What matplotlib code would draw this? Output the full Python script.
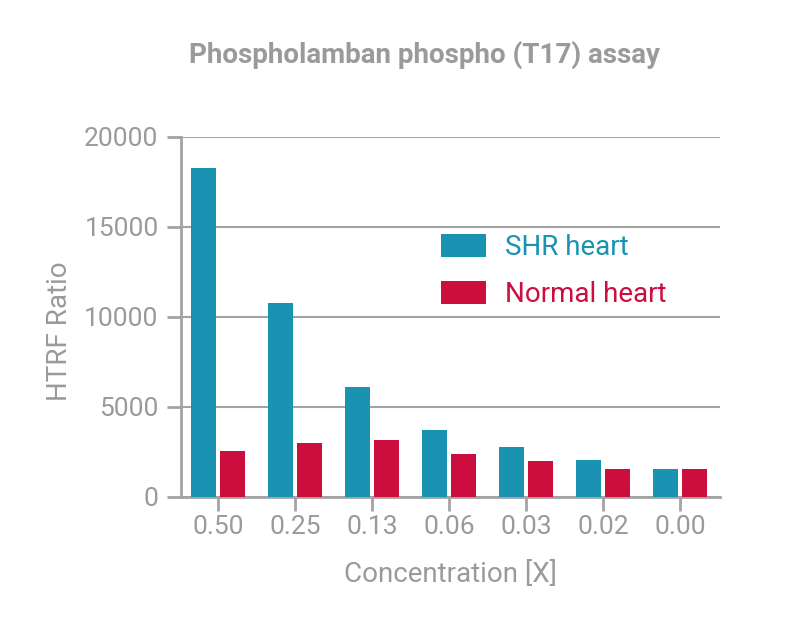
import numpy as np
import matplotlib.pyplot as plt
from matplotlib import font_manager

concentrations = ['0.50', '0.25', '0.13', '0.06', '0.03', '0.02', '0.00']
shr_heart = [18250, 10780, 6130, 3720, 2800, 2060, 1570]
normal_heart = [2570, 3000, 3150, 2390, 2020, 1570, 1540]

BLUE = '#1a93b2'
RED = '#cc0e3f'
GRAY = '#9a9a9a'
AXIS = '#a3a3a3'

names = {f.name for f in font_manager.fontManager.ttflist}
family = 'Liberation Sans Narrow' if 'Liberation Sans Narrow' in names else 'Roboto'
plt.rcParams['font.family'] = [family, 'DejaVu Sans']

fig = plt.figure(figsize=(8, 6.22), dpi=100)
ax = fig.add_axes([0.226, 0.201, 0.674, 0.579])

x = np.arange(len(concentrations))
w = 0.325
ax.bar(x - 0.19, shr_heart, w, color=BLUE, label='SHR heart', zorder=3)
ax.bar(x + 0.19, normal_heart, w, color=RED, label='Normal heart', zorder=3)

ax.set_xlim(-0.48, 6.52)
ax.set_ylim(0, 20000)
ax.set_yticks(range(0, 20001, 5000))
ax.set_xticks(x)
ax.set_xticklabels(concentrations)
ax.yaxis.grid(True, color=AXIS, linewidth=1.5, zorder=0)

for s in ['top', 'right']:
    ax.spines[s].set_visible(False)
for s in ['left', 'bottom']:
    ax.spines[s].set_color(AXIS)
    ax.spines[s].set_linewidth(2)
ax.tick_params(axis='both', colors=AXIS, width=2, length=10, labelcolor=GRAY,
               labelsize=19)
ax.tick_params(axis='x', pad=3)
ax.tick_params(axis='y', pad=6)

ax.set_ylabel('HTRF Ratio', color=GRAY, fontsize=20)
ax.yaxis.set_label_coords(-0.20, 0.46)
ax.set_xlabel('Concentration [X]', color=GRAY, fontsize=20, labelpad=16)
fig.text(0.531, 0.911, 'Phospholamban phospho (T17) assay', color=GRAY,
         fontsize=20, fontweight='bold', ha='center', va='center')

leg = ax.legend(loc='upper left', bbox_to_anchor=(0.437, 0.80), frameon=False,
                fontsize=20, handlelength=1.6, handleheight=0.9,
                handletextpad=0.7, labelspacing=0.72)
for txt, c in zip(leg.get_texts(), [BLUE, RED]):
    txt.set_color(c)

fig.savefig('out.png', dpi=100)
